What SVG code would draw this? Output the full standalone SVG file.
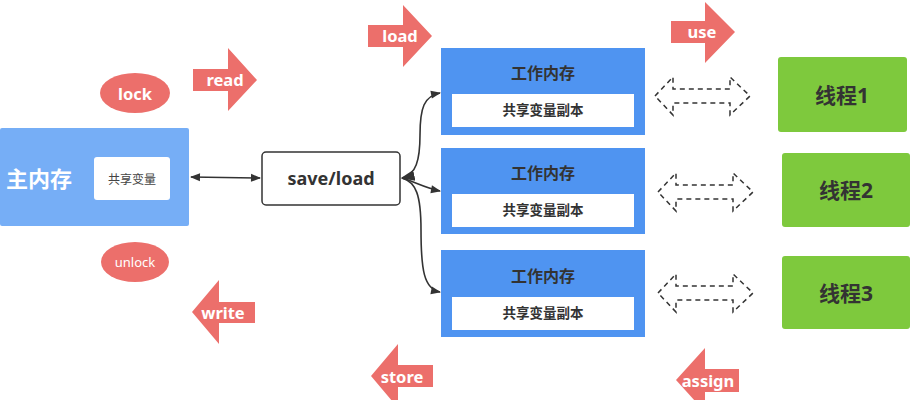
<svg xmlns="http://www.w3.org/2000/svg" width="912" height="400" viewBox="0 0 912 400">
<defs>
<style>
text{font-family:"Noto Sans","Noto Sans CJK SC",sans-serif;text-anchor:middle;dominant-baseline:central}
.red{fill:#ec6f6b}
.lbl{fill:#fff;font-weight:bold;font-size:16.5px}
.dark{fill:#333;font-weight:bold}
.wm{fill:#4f94f1}
.inner{fill:#fff}
.thr{fill:#7ec93d}
.dash{fill:#fff;stroke:#333;stroke-width:1.5;stroke-dasharray:5 4}
.con{fill:none;stroke:#333;stroke-width:1.6}
</style>
<marker id="ah" viewBox="0 0 10 10" refX="9" refY="5" markerWidth="11" markerHeight="10" orient="auto-start-reverse" markerUnits="userSpaceOnUse">
<path d="M0,1 L10,5 L0,9 Z" fill="#333"/>
</marker>
<marker id="ah2" viewBox="0 0 10 10" refX="9" refY="5" markerWidth="14" markerHeight="14" orient="auto-start-reverse" markerUnits="userSpaceOnUse">
<path d="M0,1 L10,5 L0,9 Z" fill="#333"/>
</marker>
</defs>

<g id="main-memory">
<rect x="0" y="128" width="189" height="98" rx="2" fill="#76aef6"/>
<rect x="94" y="157" width="76" height="43" rx="3" fill="#fff"/>
<text x="39" y="178" fill="#fff" font-weight="bold" font-size="22">主内存</text>
<text x="132" y="179" fill="#444" font-size="12">共享变量</text>
</g>

<g id="lock">
<ellipse cx="135" cy="93" rx="35" ry="20" class="red"/>
<text x="135" y="93" class="lbl" font-size="14">lock</text>
</g>
<g id="unlock">
<ellipse cx="135" cy="262" rx="34" ry="20" class="red"/>
<text x="135" y="262" fill="#fff" font-size="13">unlock</text>
</g>

<g id="read">
<polygon class="red" points="193,69 228,69 228,48 257,80 228,111 228,91 193,91"/>
<text x="225" y="79" class="lbl">read</text>
</g>
<g id="load">
<polygon class="red" points="368,25 403,25 403,5 432,36 403,67 403,47 368,47"/>
<text x="400" y="35" class="lbl">load</text>
</g>
<g id="use">
<polygon class="red" points="671,21 705,21 705,2 735,32 705,63 705,43 671,43"/>
<text x="702" y="31" class="lbl">use</text>
</g>
<g id="write">
<polygon class="red" points="192,312 219,280 219,302 255,302 255,323 219,323 219,344"/>
<text x="223" y="312" class="lbl">write</text>
</g>
<g id="store">
<polygon class="red" points="371,376 398,344 398,365 433,365 433,387 398,387 398,408"/>
<text x="402" y="376" class="lbl">store</text>
</g>
<g id="assign">
<polygon class="red" points="676,380 705,348 705,369 739,369 739,392 705,392 705,412"/>
<text x="708" y="380" class="lbl">assign</text>
</g>

<g id="save-load">
<rect x="262" y="152" width="138" height="53" rx="4" fill="#fff" stroke="#333" stroke-width="1.5"/>
<text x="331" y="178" class="dark" font-size="18">save/load</text>
</g>

<g id="work-memory-1">
<rect x="441" y="48" width="204" height="87" class="wm"/>
<rect x="452" y="94" width="182" height="33" class="inner"/>
<text x="543" y="73" class="dark" font-size="16">工作内存</text>
<text x="543" y="110" class="dark" font-size="13.5">共享变量副本</text>
</g>
<g id="work-memory-2">
<rect x="441" y="148" width="204" height="86" class="wm"/>
<rect x="452" y="194" width="182" height="33" class="inner"/>
<text x="543" y="173" class="dark" font-size="16">工作内存</text>
<text x="543" y="210" class="dark" font-size="13.5">共享变量副本</text>
</g>
<g id="work-memory-3">
<rect x="441" y="250" width="204" height="87" class="wm"/>
<rect x="452" y="297" width="182" height="33" class="inner"/>
<text x="543" y="276" class="dark" font-size="16">工作内存</text>
<text x="543" y="313" class="dark" font-size="13.5">共享变量副本</text>
</g>

<g id="thread-1">
<rect x="778" y="57" width="129" height="75" rx="3" class="thr"/>
<text x="842" y="95" class="dark" font-size="21">线程1</text>
</g>
<g id="thread-2">
<rect x="782" y="153" width="128" height="74" rx="3" class="thr"/>
<text x="846" y="190" class="dark" font-size="21">线程2</text>
</g>
<g id="thread-3">
<rect x="782" y="256" width="128" height="73" rx="3" class="thr"/>
<text x="846" y="293" class="dark" font-size="21">线程3</text>
</g>

<g id="connectors">
<line x1="191" y1="177" x2="260" y2="178" class="con" marker-start="url(#ah)" marker-end="url(#ah)"/>
<path d="M402,178 C416,175 420,160 420,135 C420,108 424,96 440,93" class="con" marker-start="url(#ah2)" marker-end="url(#ah)"/>
<path d="M402,178 C415,182 425,188 440,191" class="con" marker-end="url(#ah)"/>
<path d="M402,178 C416,182 421,195 421,230 C421,270 424,289 440,292" class="con" marker-end="url(#ah)"/>
<polygon class="dash" points="655,96 673,77 673,89 730,89 730,77 750,96 730,115 730,103 673,103 673,115"/>
<polygon class="dash" points="658,192 676,173 676,185 733,185 733,173 753,192 733,211 733,199 676,199 676,211"/>
<polygon class="dash" points="658,293 676,274 676,286 733,286 733,274 753,293 733,312 733,300 676,300 676,312"/>
</g>
</svg>
